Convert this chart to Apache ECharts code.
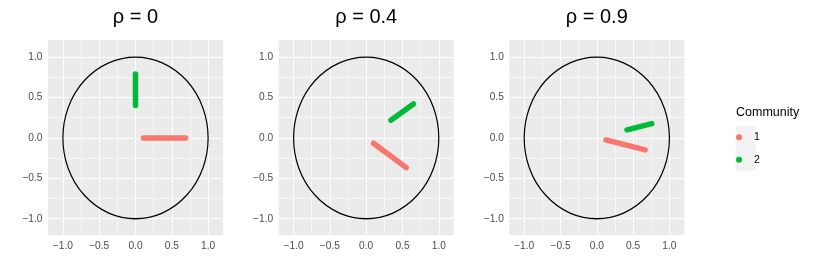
<!DOCTYPE html>
<html>
<head>
<meta charset="utf-8">
<script src="https://cdn.jsdelivr.net/npm/echarts@6/dist/echarts.min.js"></script>
<style>html,body{margin:0;padding:0;background:#fff}#c{width:830px;height:277px}</style>
</head>
<body>
<div id="c"></div>
<script>
// ---- data ----
const panelTitles = ['ρ = 0', 'ρ = 0.4', 'ρ = 0.9'];
const communities = ['1', '2'];
const communityColors = ['#F8766D', '#00BA38'];
// each panel: segment endpoints [x, y]
const community1 = [
  [[0.11, 0.0], [0.69, 0.0]],
  [[0.10, -0.066], [0.552, -0.367]],
  [[0.127, -0.025], [0.666, -0.148]]
];
const community2 = [
  [[0.0, 0.40], [0.0, 0.79]],
  [[0.34, 0.22], [0.65, 0.42]],
  [[0.416, 0.099], [0.757, 0.177]]
];
const circleCenter = [0, 0];
const circleRadius = 1;
const majorBreaks = [-1, -0.5, 0, 0.5, 1];
const minorBreaks = [-0.75, -0.25, 0.25, 0.75];
const xLimits = [-1.205, 1.205];
const yLimits = [-1.205, 1.212];

// ---- layout ----
const panelLefts = [48, 278.7, 509.3];
const panelWidth = 175;
const panelTop = 40;
const panelHeight = 195.3;
const font = 'Liberation Sans, Arial, Helvetica, sans-serif';

const grids = [], xAxes = [], yAxes = [], series = [], titles = [];
const fmt = v => (v < 0 ? '\u2212' : '') + Math.abs(v).toFixed(1);

panelTitles.forEach((t, i) => {
  grids.push({ left: panelLefts[i], top: panelTop, width: panelWidth, height: panelHeight,
    show: true, backgroundColor: '#EBEBEB', borderWidth: 0 });
  titles.push({ text: t, left: panelLefts[i] + panelWidth / 2, top: 7.5, textAlign: 'center', padding: 0,
    textStyle: { fontFamily: font, fontSize: 20, fontWeight: 'normal', color: '#000' } });
  const common = {
    type: 'value', gridIndex: i, splitLine: { show: false },
    axisLine: { show: false },
    axisTick: { show: true, length: 3.5, customValues: majorBreaks, lineStyle: { color: '#333', width: 1 } },
    axisLabel: { customValues: majorBreaks, formatter: fmt, color: '#4D4D4D', fontSize: 10.2, fontFamily: font }
  };
  xAxes.push(Object.assign({}, common, { min: xLimits[0], max: xLimits[1],
    axisLabel: Object.assign({}, common.axisLabel, { margin: 5.5 }) }));
  yAxes.push(Object.assign({}, common, { min: yLimits[0], max: yLimits[1],
    axisLabel: Object.assign({}, common.axisLabel, { margin: 5.5 }) }));

  const gridLines = [];
  minorBreaks.forEach(v => { gridLines.push({ xAxis: v, lineStyle: { width: 0.55 } }); gridLines.push({ yAxis: v, lineStyle: { width: 0.55 } }); });
  majorBreaks.forEach(v => { gridLines.push({ xAxis: v, lineStyle: { width: 1.1 } }); gridLines.push({ yAxis: v, lineStyle: { width: 1.1 } }); });

  // unit circle
  series.push({
    type: 'custom', xAxisIndex: i, yAxisIndex: i, z: 2, silent: true,
    data: [[circleCenter[0], circleCenter[1], circleRadius]],
    renderItem: (params, api) => {
      const cx = api.value(0), cy = api.value(1), r = api.value(2);
      const c = api.coord([cx, cy]);
      const px = api.coord([cx + r, cy]);
      const py = api.coord([cx, cy + r]);
      const rx = px[0] - c[0], ry = c[1] - py[1];
      return { type: 'circle', x: c[0], y: c[1], scaleX: 1, scaleY: ry / rx,
        shape: { cx: 0, cy: 0, r: rx },
        style: { fill: 'none', stroke: '#000', lineWidth: 1.2, strokeNoScale: true } };
    }
  });
  [community1, community2].forEach((seg, k) => {
    const s = {
      type: 'line', name: communities[k], xAxisIndex: i, yAxisIndex: i, z: 3,
      data: seg[i], symbol: 'none', silent: true, animation: false,
      itemStyle: { color: communityColors[k] },
      lineStyle: { color: communityColors[k], width: 5.5, cap: 'round' }
    };
    if (k === 0) {
      s.markLine = { silent: true, z: 1, symbol: ['none', 'none'], label: { show: false },
        lineStyle: { color: '#FFFFFF', type: 'solid' }, animation: false, data: gridLines };
    }
    series.push(s);
  });
});

const chart = echarts.init(document.getElementById('c'), null, { renderer: 'canvas' });
chart.setOption({
  animation: false,
  backgroundColor: '#FFFFFF',
  title: titles,
  grid: grids,
  xAxis: xAxes,
  yAxis: yAxes,
  legend: {
    data: communities, orient: 'vertical', left: 736, top: 131.3, padding: 0,
    icon: 'circle', itemWidth: 20, itemHeight: 6, itemGap: 10.4,
    textStyle: { fontFamily: font, fontSize: 10.5, color: '#000', lineHeight: 12 },
    selectedMode: false
  },
  graphic: [
    { type: 'rect', left: 735.7, top: 125.7, z: -1, shape: { width: 20, height: 45 }, style: { fill: '#F2F2F2' } },
    { type: 'text', left: 736, top: 106, style: { text: 'Community', font: '12.5px ' + font, fill: '#000' } }
  ],
  series: series
});
</script>
</body>
</html>
